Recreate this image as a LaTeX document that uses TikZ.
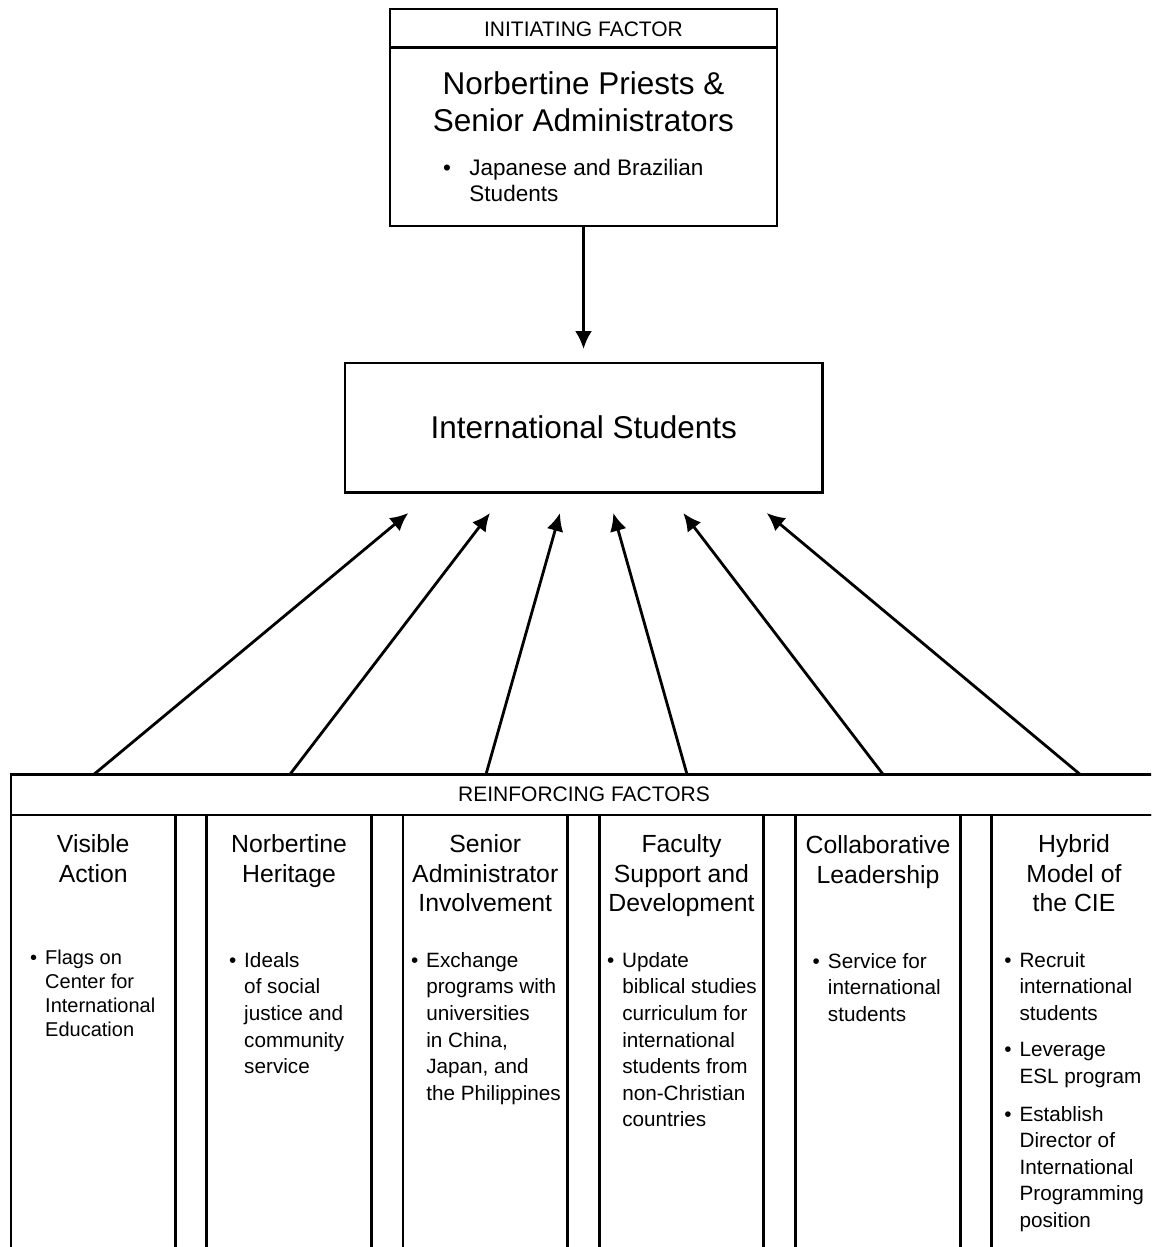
\documentclass[tikz,border=0pt]{standalone}
\usepackage{fontspec}
\setmainfont{Liberation Sans}
\usetikzlibrary{shapes,arrows,arrows.meta}
\tikzstyle{block} = [rectangle, draw, line width=2.8pt, inner sep=0pt, outer sep=0pt]
\tikzstyle{line} = [draw, line width=2.8pt, -{Latex[length=18pt,width=17pt]}]
\tikzstyle{caps} = [font=\fontsize{21}{25}\selectfont, inner sep=0pt, anchor=base]
\tikzstyle{big} = [font=\fontsize{31.5}{37}\selectfont, inner sep=0pt, anchor=base]
\tikzstyle{head} = [font=\fontsize{24.8}{29.5}\selectfont, inner sep=0pt, anchor=base]
\tikzstyle{note} = [font=\fontsize{20.7}{26.6}\selectfont, inner sep=0pt, anchor=base west]
\newcommand{\stacked}[1]{\begin{tabular}[t]{@{}c@{}}#1\end{tabular}}
\newcommand{\bulleted}[2][8pt]{\textbullet\hspace{#1}\begin{tabular}[t]{@{}l@{}}#2\end{tabular}}

\begin{document}
\begin{tikzpicture}[x=1pt, y=-1pt]
	\useasboundingbox (0,0) rectangle (1151,1247);
	\clip (0,0) rectangle (1151,1247);

		% initiating factor
		\node [block, minimum width=387pt, minimum height=217pt] (init) at (583.5,117.5) {};
		\draw [line width=2.8pt] ([yshift=-38.5pt]init.north west) -- ([yshift=-38.5pt]init.north east);
		\node [caps] (initlabel) at (583.5,36.7) {INITIATING FACTOR};
		\node [big] (initname) at (583.5,94.3) {\stacked{Norbertine Priests \&\\Senior Administrators}};
		\node [note, font=\fontsize{22.5}{25.5}\selectfont] (initnote) at (442.8,175.7) {\bulleted[18.6pt]{Japanese and Brazilian\\Students}};

		% international students
		\node [block, minimum width=477.7pt, minimum height=129.3pt, font=\fontsize{31.5}{37}\selectfont] (intl) at (583.8,427.6) {International Students};

		\coordinate (intop) at (583.5,349);
		\path [line] (init) -- (intop);

		% reinforcing factors
		\node [block, minimum width=1146pt, minimum height=40.7pt, anchor=north west, font=\fontsize{21}{25}\selectfont] (reinf) at (11,774.3) {REINFORCING FACTORS};

		\node [block, minimum width=164.5pt, minimum height=500pt, anchor=north] (col1) at (93.25,815) {};
		\node [block, minimum width=164.5pt, minimum height=500pt, anchor=north] (col2) at (289,815) {};
		\node [block, minimum width=164.5pt, minimum height=500pt, anchor=north] (col3) at (485.25,815) {};
		\node [block, minimum width=164.5pt, minimum height=500pt, anchor=north] (col4) at (681.5,815) {};
		\node [block, minimum width=164.5pt, minimum height=500pt, anchor=north] (col5) at (878,815) {};
		\node [block, minimum width=164.5pt, minimum height=500pt, anchor=north] (col6) at (1074,815) {};

		\node [head] (visible) at (93.25,852.7) {\stacked{Visible\\Action}};
		\node [head] (heritage) at (289,852.7) {\stacked{Norbertine\\Heritage}};
		\node [head] (senior) at (485.25,852.7) {\stacked{Senior\\Administrator\\Involvement}};
		\node [head] (faculty) at (681.5,852.7) {\stacked{Faculty\\Support and\\Development}};
		\node [head] (collab) at (878,853.5) {\stacked{Collaborative\\Leadership}};
		\node [head] (hybrid) at (1074,852.7) {\stacked{Hybrid\\Model of\\the CIE}};

		\node [note, font=\fontsize{20}{24.2}\selectfont] (visiblenote) at (30,964) {\bulleted{Flags on\\Center for\\International\\Education}};
		\node [note] (heritagenote) at (228.8,967.3) {\bulleted{Ideals\\of social\\justice and\\community\\service}};
		\node [note] (seniornote) at (410.8,967.3) {\bulleted{Exchange\\programs with\\universities\\in China,\\Japan, and\\the Philippines}};
		\node [note] (facultynote) at (606.8,967.3) {\bulleted{Update\\biblical studies\\curriculum for\\international\\students from\\non-Christian\\countries}};
		\node [note] (collabnote) at (812.5,968.3) {\bulleted{Service for\\international\\students}};
		\node [note] (hybridnote1) at (1004.1,967.3) {\bulleted{Recruit\\international\\students}};
		\node [note] (hybridnote2) at (1004.1,1056.7) {\bulleted{Leverage\\ESL program}};
		\node [note] (hybridnote3) at (1004.1,1121) {\bulleted{Establish\\Director of\\International\\Programming\\position}};

		\coordinate (tip1) at (408.3,513);
		\coordinate (tip2) at (490,513);
		\coordinate (tip3) at (560,513);
		\coordinate (tip4) at (613.3,513);
		\coordinate (tip5) at (683.3,513);
		\coordinate (tip6) at (766.7,513);

		\path [line] ([xshift=-490pt]reinf.north) -- (tip1);
		\path [line] ([xshift=-294pt]reinf.north) -- (tip2);
		\path [line] ([xshift=-98pt]reinf.north) -- (tip3);
		\path [line] ([xshift=103pt]reinf.north) -- (tip4);
		\path [line] ([xshift=299pt]reinf.north) -- (tip5);
		\path [line] ([xshift=496pt]reinf.north) -- (tip6);
	\end{tikzpicture}
\end{document}
